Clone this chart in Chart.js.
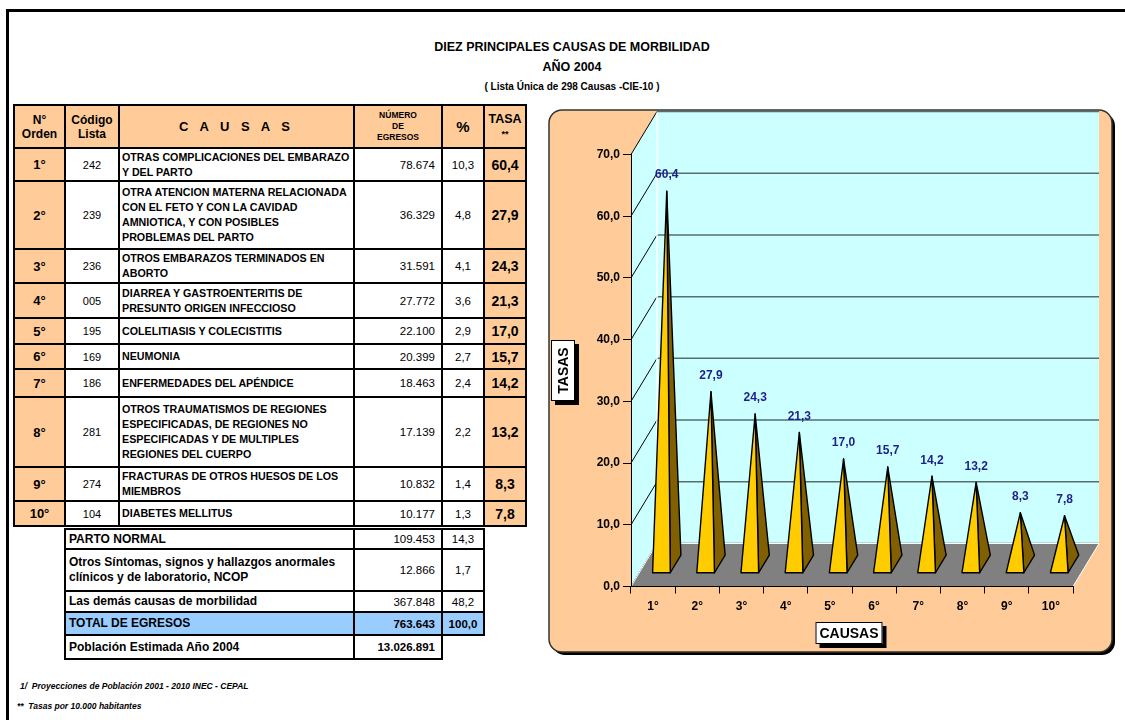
<!DOCTYPE html>
<html>
<head>
<meta charset="utf-8">
<script src="https://cdn.jsdelivr.net/npm/chart.js@4.4.0/dist/chart.umd.min.js"></script>
<style>
  body { margin: 0; background: #fff; font-family: Arial, "Liberation Sans", sans-serif; color: #000;
         width: 1125px; height: 720px; overflow: hidden; position: relative; }
  .marco { position: absolute; left: 6px; top: 9px; width: 1200px; height: 800px; border: 3px solid #000; }
  .titulo { position: absolute; left: 372px; width: 400px; text-align: center; font-weight: bold; white-space: nowrap; }
  table { position: absolute; border-collapse: collapse; table-layout: fixed; }
  td { border: 2px solid #000; padding: 0; vertical-align: middle; white-space: nowrap; overflow: hidden; }
  .cab { background: #FFCC99; font-weight: bold; text-align: center; line-height: 14px; }
  .orden { background: #FFCC99; font-weight: bold; font-size: 13px; text-align: center; }
  .codigo { font-size: 11px; text-align: center; }
  .causa { font-weight: bold; font-size: 10.7px; line-height: 15px; padding-left: 2px; }
  .num { font-size: 11.5px; text-align: right; padding-right: 6px; }
  .pct { font-size: 11.5px; text-align: center; }
  .tasa { background: #FFCC99; font-weight: bold; font-size: 14px; text-align: center; }
  .otra { font-weight: bold; font-size: 12px; line-height: 15px; padding-left: 3px; }
  .total td { background: #99CCFF; font-weight: bold; }
  .nota { position: absolute; left: 20px; font-size: 8.5px; font-weight: bold; font-style: italic; white-space: nowrap; }
  #grafico { position: absolute; left: 540px; top: 100px; }
</style>
</head>
<body>
<div class="marco"></div>
<div class="titulo" style="top:40px;font-size:12.5px;">DIEZ PRINCIPALES CAUSAS DE MORBILIDAD</div>
<div class="titulo" style="top:60px;font-size:12.5px;">AÑO 2004</div>
<div class="titulo" style="top:81px;font-size:10px;">( Lista Única de 298 Causas -CIE-10 )</div>

<table id="principales" style="left:13px;top:104px;width:512px;">
  <colgroup><col style="width:51px"><col style="width:54px"><col style="width:235px"><col style="width:88px"><col style="width:42px"><col style="width:42px"></colgroup>
  <tr style="height:43px">
    <td class="cab" style="font-size:12px">N°<br>Orden</td>
    <td class="cab" style="font-size:12px">Código<br>Lista</td>
    <td class="cab" style="font-size:13px;letter-spacing:4px">C A U S A S</td>
    <td class="cab" style="font-size:8.5px;line-height:11px">NÚMERO<br>DE<br>EGRESOS</td>
    <td class="cab" style="font-size:15px">%</td>
    <td class="cab" style="font-size:12.5px">TASA<br><span style="font-size:9px">**</span></td>
  </tr>
</table>

<table id="otras" style="left:64px;top:528px;width:419px;">
  <colgroup><col style="width:289px"><col style="width:88px"><col style="width:42px"></colgroup>
</table>

<canvas id="grafico" width="585" height="570"></canvas>

<div class="nota" style="top:681px;">1/&nbsp; Proyecciones de Población 2001 - 2010 INEC - CEPAL</div>
<div class="nota" style="top:701px;left:17px;">**&nbsp; Tasas por 10.000 habitantes</div>

<script>
// diez principales causas (orden, código CIE-10, descripción, egresos, %, tasa)
const ordenes = ['1°', '2°', '3°', '4°', '5°', '6°', '7°', '8°', '9°', '10°'];
const codigos = ['242', '239', '236', '005', '195', '169', '186', '281', '274', '104'];
const causas = [
  'OTRAS COMPLICACIONES DEL EMBARAZO|Y DEL PARTO',
  'OTRA ATENCION MATERNA RELACIONADA|CON EL FETO Y CON LA CAVIDAD|AMNIOTICA, Y CON POSIBLES|PROBLEMAS DEL PARTO',
  'OTROS EMBARAZOS TERMINADOS EN|ABORTO',
  'DIARREA Y GASTROENTERITIS DE|PRESUNTO ORIGEN INFECCIOSO',
  'COLELITIASIS Y COLECISTITIS',
  'NEUMONIA',
  'ENFERMEDADES DEL APÉNDICE',
  'OTROS TRAUMATISMOS DE REGIONES|ESPECIFICADAS, DE REGIONES NO|ESPECIFICADAS Y DE MULTIPLES|REGIONES DEL CUERPO',
  'FRACTURAS DE OTROS HUESOS DE LOS|MIEMBROS',
  'DIABETES MELLITUS'
];
const egresos = ['78.674', '36.329', '31.591', '27.772', '22.100', '20.399', '18.463', '17.139', '10.832', '10.177'];
const porcentajes = ['10,3', '4,8', '4,1', '3,6', '2,9', '2,7', '2,4', '2,2', '1,4', '1,3'];
const tasas = [60.4, 27.9, 24.3, 21.3, 17.0, 15.7, 14.2, 13.2, 8.3, 7.8];

// resto de egresos y totales
const otrasCausas = ['PARTO NORMAL', 'Otros Síntomas, signos y hallazgos anormales|clínicos y de laboratorio, NCOP', 'Las demás causas de morbilidad'];
const otrosEgresos = ['109.453', '12.866', '367.848'];
const otrosPorcentajes = ['14,3', '1,7', '48,2'];
const totalEgresos = '763.643';
const totalPorcentaje = '100,0';
const poblacion = '13.026.891';

const coma = v => v.toFixed(1).replace('.', ',');
const lineas = s => s.split('|').join('<br>');

// alturas de fila de la tabla
const altoFila = [33, 68, 34, 35, 26, 25, 28, 70, 34, 25];
const tabla = document.getElementById('principales');
ordenes.forEach((o, i) => {
  const tr = tabla.insertRow();
  tr.style.height = altoFila[i] + 'px';
  tr.innerHTML = `<td class="orden">${o}</td><td class="codigo">${codigos[i]}</td>` +
    `<td class="causa">${lineas(causas[i])}</td><td class="num">${egresos[i]}</td>` +
    `<td class="pct">${porcentajes[i]}</td><td class="tasa">${coma(tasas[i])}</td>`;
});

const altoOtra = [20, 42, 21];
const tabla2 = document.getElementById('otras');
otrasCausas.forEach((c, i) => {
  const tr = tabla2.insertRow();
  tr.style.height = altoOtra[i] + 'px';
  tr.innerHTML = `<td class="otra">${lineas(c)}</td><td class="num">${otrosEgresos[i]}</td><td class="pct">${otrosPorcentajes[i]}</td>`;
});
let tr = tabla2.insertRow();
tr.className = 'total';
tr.style.height = '23px';
tr.innerHTML = `<td class="otra">TOTAL DE EGRESOS</td><td class="num">${totalEgresos}</td><td class="pct">${totalPorcentaje}</td>`;
tr = tabla2.insertRow();
tr.style.height = '24px';
tr.innerHTML = `<td class="otra">Población Estimada Año 2004</td><td class="num" style="font-weight:bold">${poblacion}</td><td style="border:none"></td>`;

// profundidad de la perspectiva 3D
const DX = 26, DY = -43;

function caja(ctx, x, y, w, h, r) {
  ctx.beginPath();
  ctx.moveTo(x + r, y);
  ctx.arcTo(x + w, y, x + w, y + h, r);
  ctx.arcTo(x + w, y + h, x, y + h, r);
  ctx.arcTo(x, y + h, x, y, r);
  ctx.arcTo(x, y, x + w, y, r);
  ctx.closePath();
}

function poligono(ctx, pts) {
  ctx.beginPath();
  ctx.moveTo(pts[0][0], pts[0][1]);
  pts.slice(1).forEach(p => ctx.lineTo(p[0], p[1]));
  ctx.closePath();
}

function rotulo(ctx, texto, cx, cy, w, h, girado) {
  ctx.fillStyle = '#000';
  ctx.fillRect(cx - w / 2 + 4, cy - h / 2 + 4, w, h);
  ctx.fillStyle = '#fff';
  ctx.fillRect(cx - w / 2, cy - h / 2, w, h);
  ctx.strokeStyle = '#000';
  ctx.lineWidth = 1;
  ctx.strokeRect(cx - w / 2 + 0.5, cy - h / 2 + 0.5, w - 1, h - 1);
  ctx.save();
  ctx.translate(cx, cy);
  if (girado) ctx.rotate(-Math.PI / 2);
  ctx.fillStyle = '#000';
  ctx.font = 'bold 14px Arial, "Liberation Sans", sans-serif';
  ctx.textAlign = 'center';
  ctx.textBaseline = 'middle';
  ctx.fillText(texto, 0, 1);
  ctx.restore();
}

const escena = {
  id: 'escena',
  beforeDraw(chart) {
    const ctx = chart.ctx, a = chart.chartArea, y = chart.scales.y;
    ctx.save();
    // marco del gráfico con sombra
    caja(ctx, 12, 13, 563, 542, 13);
    ctx.fillStyle = '#000';
    ctx.fill();
    caja(ctx, 9, 10, 563, 542, 13);
    ctx.fillStyle = '#FFCC99';
    ctx.fill();
    ctx.strokeStyle = '#333';
    ctx.lineWidth = 1.5;
    ctx.stroke();

    // paredes
    ctx.fillStyle = '#CCFFFF';
    poligono(ctx, [[a.left, a.bottom], [a.left, a.top], [a.left + DX, a.top + DY], [a.left + DX, a.bottom + DY]]);
    ctx.fill();
    ctx.fillRect(a.left + DX, a.top + DY, a.right - a.left, a.bottom - a.top);

    // líneas de división
    y.ticks.forEach(t => {
      const py = y.getPixelForValue(t.value);
      ctx.strokeStyle = '#000';
      ctx.lineWidth = 1;
      ctx.beginPath();
      ctx.moveTo(a.left, py);
      ctx.lineTo(a.left + DX, py + DY);
      ctx.stroke();
      ctx.strokeStyle = '#566e6e';
      ctx.lineWidth = 1.5;
      ctx.beginPath();
      ctx.moveTo(a.left + DX, py + DY);
      ctx.lineTo(a.right + DX, py + DY);
      ctx.stroke();
    });
    ctx.strokeStyle = '#fff';
    ctx.lineWidth = 1.5;
    ctx.beginPath();
    ctx.moveTo(a.left + DX, a.top + DY + 1);
    ctx.lineTo(a.left + DX, a.bottom + DY);
    ctx.stroke();

    // piso
    poligono(ctx, [[a.left, a.bottom], [a.left + DX, a.bottom + DY], [a.right + DX, a.bottom + DY], [a.right, a.bottom]]);
    ctx.fillStyle = '#808080';
    ctx.fill();
    ctx.strokeStyle = '#fff';
    ctx.lineWidth = 1;
    ctx.stroke();
    ctx.restore();
  },
  afterDatasetsDraw(chart) {
    const ctx = chart.ctx, y = chart.scales.y;
    const base = y.getPixelForValue(0);
    const f1 = 0.32, f2 = 0.73, fm = (f1 + f2) / 2;
    ctx.save();
    ctx.lineJoin = 'round';
    ctx.strokeStyle = '#000';
    ctx.lineWidth = 1.4;
    chart.getDatasetMeta(0).data.forEach((bar, i) => {
      const hw = bar.width / 2;
      const fl = [bar.x + f1 * DX - hw, base + f1 * DY];
      const fr = [bar.x + f1 * DX + hw, base + f1 * DY];
      const br = [bar.x + f2 * DX + hw, base + f2 * DY];
      const cima = [bar.x + fm * DX, bar.y + fm * DY];
      poligono(ctx, [fr, br, cima]);
      ctx.fillStyle = '#806000';
      ctx.fill();
      ctx.stroke();
      poligono(ctx, [fl, fr, cima]);
      ctx.fillStyle = '#FFCC00';
      ctx.fill();
      ctx.stroke();

      ctx.fillStyle = '#1f1f8c';
      ctx.font = 'bold 12px Arial, "Liberation Sans", sans-serif';
      ctx.textAlign = 'center';
      ctx.textBaseline = 'middle';
      ctx.fillText(coma(tasas[i]), cima[0], cima[1] - 16);
    });
    ctx.restore();
  },
  afterDraw(chart) {
    const ctx = chart.ctx, a = chart.chartArea;
    rotulo(ctx, 'TASAS', 23, (a.top + a.bottom) / 2, 24, 61, true);
    rotulo(ctx, 'CAUSAS', (a.left + a.right) / 2 - 3, 533, 67, 22, false);
  }
};

const fuenteEje = { family: 'Arial, "Liberation Sans", sans-serif', weight: 'bold', size: 12 };

new Chart(document.getElementById('grafico'), {
  type: 'bar',
  data: {
    labels: ordenes,
    datasets: [{
      data: tasas,
      backgroundColor: 'rgba(0,0,0,0)',
      borderWidth: 0,
      categoryPercentage: 0.8,
      barPercentage: 0.5
    }]
  },
  options: {
    responsive: false,
    animation: false,
    events: [],
    layout: { padding: { top: 54.5, right: 52, bottom: 0, left: 0 } },
    plugins: { legend: { display: false }, tooltip: { enabled: false } },
    scales: {
      y: {
        min: 0,
        max: 70,
        ticks: { stepSize: 10, color: '#000', font: fuenteEje, padding: 3, callback: v => coma(v) },
        grid: { drawOnChartArea: false, drawTicks: true, tickLength: 8, color: '#000' },
        border: { color: '#000', width: 1 },
        afterFit: s => { s.width = 91; }
      },
      x: {
        ticks: { color: '#000', font: fuenteEje, padding: 6 },
        grid: { offset: true, drawOnChartArea: false, drawTicks: true, tickLength: 7, color: '#000' },
        border: { color: '#000', width: 1 },
        afterFit: s => { s.height = 83.5; }
      }
    }
  },
  plugins: [escena]
});
</script>
</body>
</html>
